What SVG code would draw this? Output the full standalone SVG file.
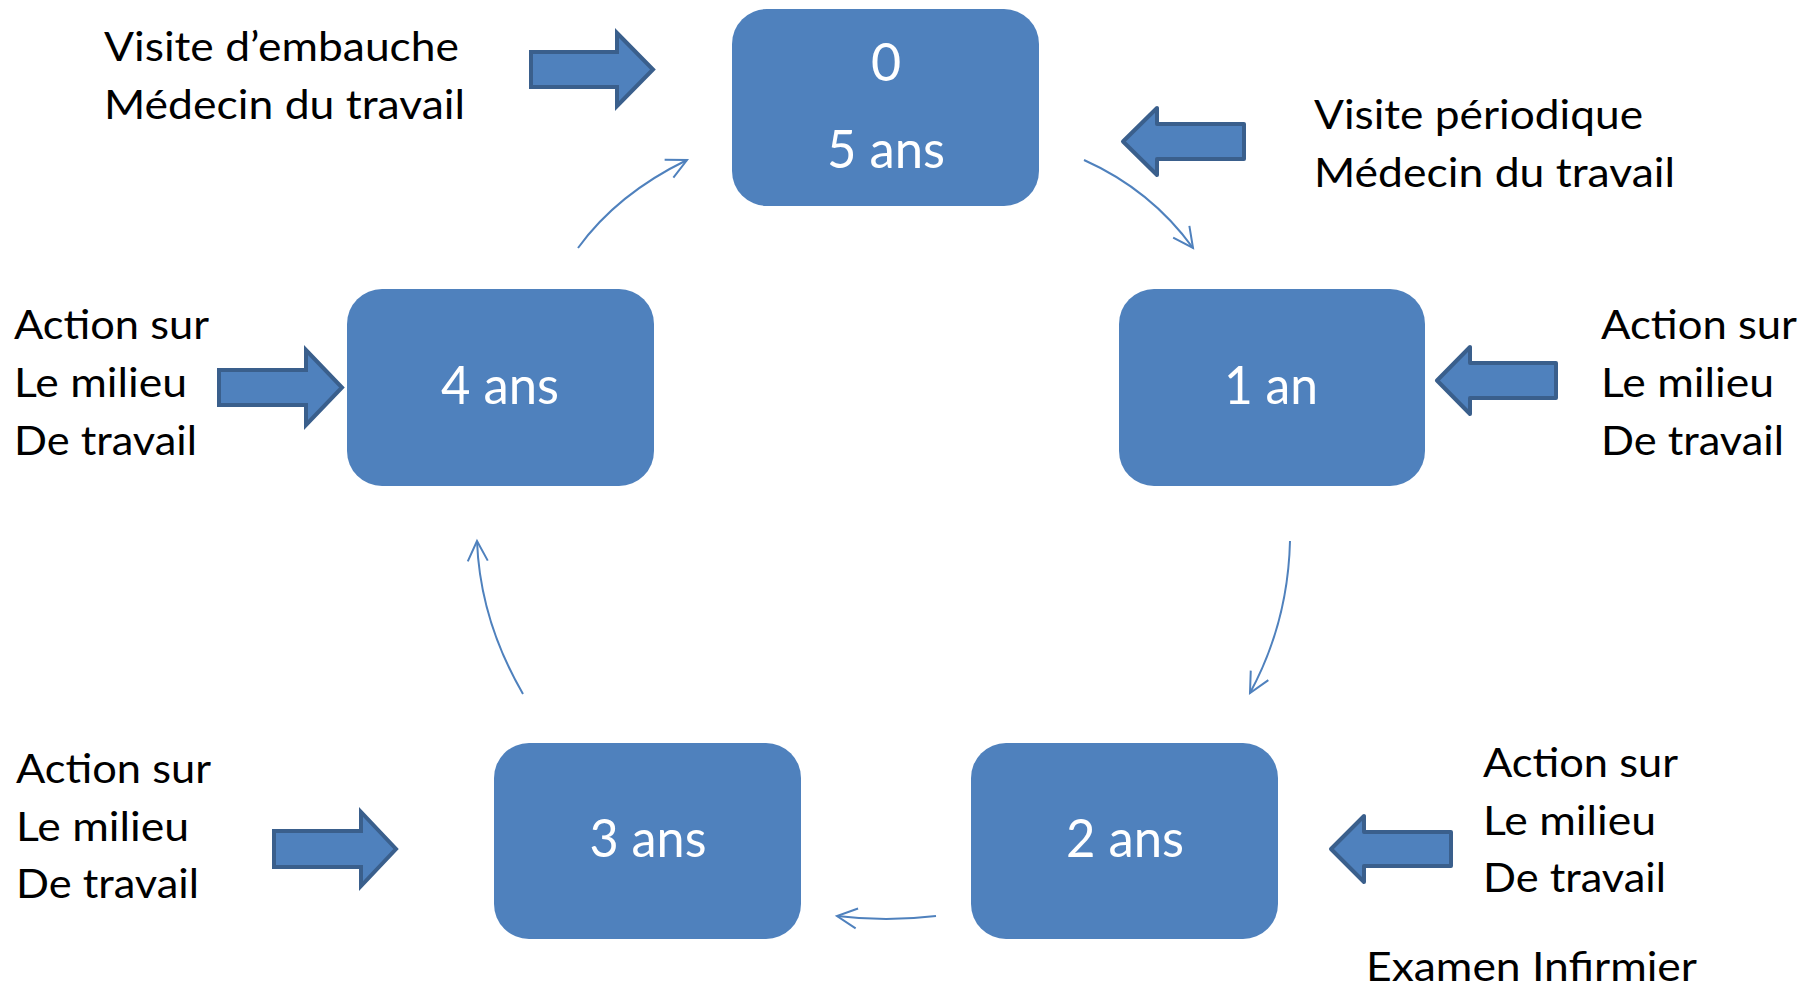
<svg xmlns="http://www.w3.org/2000/svg" width="1814" height="986" viewBox="0 0 1814 986">
<defs>
<style>
.node rect{fill:#4F81BD;}
.nt{font-family:Lato,"Liberation Sans",sans-serif;font-size:52px;fill:#FFFFFF;text-anchor:middle;}
.lb{font-family:Lato,"Liberation Sans",sans-serif;font-size:41px;fill:#000000;}
.ba{fill:#4F81BD;stroke:#3A5F8C;stroke-width:4;}
.br{stroke-linejoin:miter;}
.bl{stroke-linejoin:round;}
.conn path{fill:none;stroke:#4F81BD;stroke-width:2;}
</style>
<marker id="ah" markerUnits="userSpaceOnUse" markerWidth="26" markerHeight="26" viewBox="-22 -12 26 24" refX="0" refY="0" orient="auto">
<path d="M-20,-10 L0,0 L-20,10" fill="none" stroke="#4F81BD" stroke-width="2"/>
</marker>
</defs>
<rect width="1814" height="986" fill="#FFFFFF"/>

<g id="connectors" class="conn">
<path d="M1084,160 Q1151,190 1193,248" marker-end="url(#ah)"/>
<path d="M1290,541 Q1288,623 1250,693" marker-end="url(#ah)"/>
<path d="M936,916 Q886,922 837,916" marker-end="url(#ah)"/>
<path d="M523,694 Q480,620 477,541" marker-end="url(#ah)"/>
<path d="M578,248 Q617,194 687,160" marker-end="url(#ah)"/>
</g>

<g id="node-0" class="node">
<rect x="732" y="9" width="307" height="197" rx="35" ry="35"/>
<text class="nt" x="886" y="81">0</text>
<text class="nt" x="886" y="168" textLength="118" lengthAdjust="spacingAndGlyphs">5 ans</text>
</g>
<g id="node-1" class="node">
<rect x="1119" y="289" width="306" height="197" rx="35" ry="35"/>
<text class="nt" x="1271" y="404" textLength="94" lengthAdjust="spacingAndGlyphs">1 an</text>
</g>
<g id="node-2" class="node">
<rect x="971" y="743" width="307" height="196" rx="35" ry="35"/>
<text class="nt" x="1125" y="857" textLength="118" lengthAdjust="spacingAndGlyphs">2 ans</text>
</g>
<g id="node-3" class="node">
<rect x="494" y="743" width="307" height="196" rx="35" ry="35"/>
<text class="nt" x="648" y="857" textLength="117" lengthAdjust="spacingAndGlyphs">3 ans</text>
</g>
<g id="node-4" class="node">
<rect x="347" y="289" width="307" height="197" rx="35" ry="35"/>
<text class="nt" x="500" y="404" textLength="118" lengthAdjust="spacingAndGlyphs">4 ans</text>
</g>

<g id="arrow-embauche">
<path class="ba br" d="M531,52 L617,52 L617,33 L653,69.5 L617,106 L617,87 L531,87 Z"/>
</g>
<g id="label-embauche">
<text class="lb" x="104" y="61" textLength="355" lengthAdjust="spacingAndGlyphs">Visite d’embauche</text>
<text class="lb" x="104" y="119" textLength="361" lengthAdjust="spacingAndGlyphs">Médecin du travail</text>
</g>

<g id="arrow-periodique">
<path class="ba bl" d="M1123,141.5 L1157,108 L1157,124 L1244,124 L1244,159 L1157,159 L1157,175 Z"/>
</g>
<g id="label-periodique">
<text class="lb" x="1314" y="129" textLength="329" lengthAdjust="spacingAndGlyphs">Visite périodique</text>
<text class="lb" x="1314" y="187" textLength="361" lengthAdjust="spacingAndGlyphs">Médecin du travail</text>
</g>

<g id="arrow-1an">
<path class="ba bl" d="M1437,380.5 L1470,347 L1470,363 L1556,363 L1556,398 L1470,398 L1470,414 Z"/>
</g>
<g id="label-1an">
<text class="lb" x="1601" y="339" textLength="196" lengthAdjust="spacingAndGlyphs">Action sur</text>
<text class="lb" x="1601" y="397" textLength="173" lengthAdjust="spacingAndGlyphs">Le milieu</text>
<text class="lb" x="1601" y="455" textLength="183" lengthAdjust="spacingAndGlyphs">De travail</text>
</g>

<g id="arrow-4ans">
<path class="ba br" d="M219,370 L306,370 L306,350 L342,387.5 L306,425 L306,405 L219,405 Z"/>
</g>
<g id="label-4ans">
<text class="lb" x="14" y="339" textLength="195" lengthAdjust="spacingAndGlyphs">Action sur</text>
<text class="lb" x="14" y="397" textLength="173" lengthAdjust="spacingAndGlyphs">Le milieu</text>
<text class="lb" x="14" y="455" textLength="183" lengthAdjust="spacingAndGlyphs">De travail</text>
</g>

<g id="arrow-3ans">
<path class="ba br" d="M274,831 L361,831 L361,812 L396,849 L361,886 L361,867 L274,867 Z"/>
</g>
<g id="label-3ans">
<text class="lb" x="16" y="783" textLength="195" lengthAdjust="spacingAndGlyphs">Action sur</text>
<text class="lb" x="16" y="841" textLength="173" lengthAdjust="spacingAndGlyphs">Le milieu</text>
<text class="lb" x="16" y="898" textLength="183" lengthAdjust="spacingAndGlyphs">De travail</text>
</g>

<g id="arrow-2ans">
<path class="ba bl" d="M1331,849 L1364,816 L1364,832 L1451,832 L1451,866 L1364,866 L1364,882 Z"/>
</g>
<g id="label-2ans">
<text class="lb" x="1483" y="777" textLength="195" lengthAdjust="spacingAndGlyphs">Action sur</text>
<text class="lb" x="1483" y="835" textLength="173" lengthAdjust="spacingAndGlyphs">Le milieu</text>
<text class="lb" x="1483" y="892" textLength="183" lengthAdjust="spacingAndGlyphs">De travail</text>
<text class="lb" x="1366" y="981" textLength="331" lengthAdjust="spacingAndGlyphs">Examen Infirmier</text>
</g>
</svg>
